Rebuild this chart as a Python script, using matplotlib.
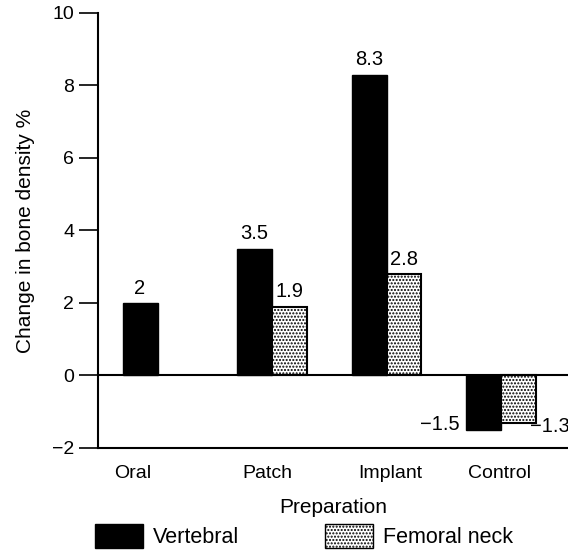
import numpy as np
import matplotlib.pyplot as plt
from matplotlib.patches import Patch

plt.rcParams['font.family'] = ['Liberation Sans', 'DejaVu Sans']
plt.rcParams['hatch.linewidth'] = 1.0

categories = ['Oral', 'Patch', 'Implant', 'Control']
vertebral = [2, 3.5, 8.3, -1.5]
femoral = [np.nan, 1.9, 2.8, -1.3]
vert_labels = ['2', '3.5', '8.3', '\u22121.5']
fem_labels = ['', '1.9', '2.8', '\u22121.3']
label_pos = [-0.22, 0.956, 2.03, 2.99]

x = np.arange(len(categories))
w = 0.305

fig = plt.figure(figsize=(5.68, 5.57), dpi=100)
ax = fig.add_axes([0.1725, 0.1957, 0.8275, 0.781])

ax.bar(x - w / 2, vertebral, w, color='black', edgecolor='black')
ax.bar(x + w / 2, femoral, w, color='white', edgecolor='black', hatch='.....', linewidth=1.5)

for i in range(len(categories)):
    v = vertebral[i]
    if v >= 0:
        ax.text(x[i] - w / 2, v + 0.15, vert_labels[i], ha='center', va='bottom', fontsize=14.5)
    else:
        ax.text(x[i] - w - 0.06, v + 0.15, vert_labels[i], ha='right', va='center', fontsize=14.5)
    f = femoral[i]
    if not np.isnan(f):
        if f >= 0:
            ax.text(x[i] + w / 2, f + 0.15, fem_labels[i], ha='center', va='bottom', fontsize=14.5)
        else:
            ax.text(x[i] + w - 0.05, f - 0.12, fem_labels[i], ha='left', va='center', fontsize=14.5)

ax.axhline(0, color='black', linewidth=1.5)
ax.set_xlim(-0.52, 3.585)
ax.set_ylim(-2, 10)
ax.set_yticks([-2, 0, 2, 4, 6, 8, 10])
ax.set_yticklabels(['\u22122', '0', '2', '4', '6', '8', '10'], fontsize=14)
ax.set_xticks(label_pos)
ax.set_xticklabels(categories, fontsize=14)
ax.tick_params(axis='x', length=0, pad=12)
ax.tick_params(axis='y', length=14, width=1.2, direction='out', pad=3)
ax.spines['top'].set_visible(False)
ax.spines['right'].set_visible(False)
ax.spines['left'].set_linewidth(1.5)
ax.spines['bottom'].set_linewidth(1.5)
ax.set_ylabel('Change in bone density %', fontsize=15, labelpad=12)
ax.set_xlabel('Preparation', fontsize=15, labelpad=12)

handles = [Patch(facecolor='black', edgecolor='black', label='Vertebral'),
           Patch(facecolor='white', edgecolor='black', hatch='.....', label='Femoral neck')]
fig.legend(handles=handles, loc='lower left', bbox_to_anchor=(0.167, 0.016), ncol=2,
           frameon=False, fontsize=15.5, handlelength=2.23, handleheight=1.3,
           columnspacing=4.0, handletextpad=0.45, borderpad=0, borderaxespad=0)

fig.savefig('out.png', dpi=100)
